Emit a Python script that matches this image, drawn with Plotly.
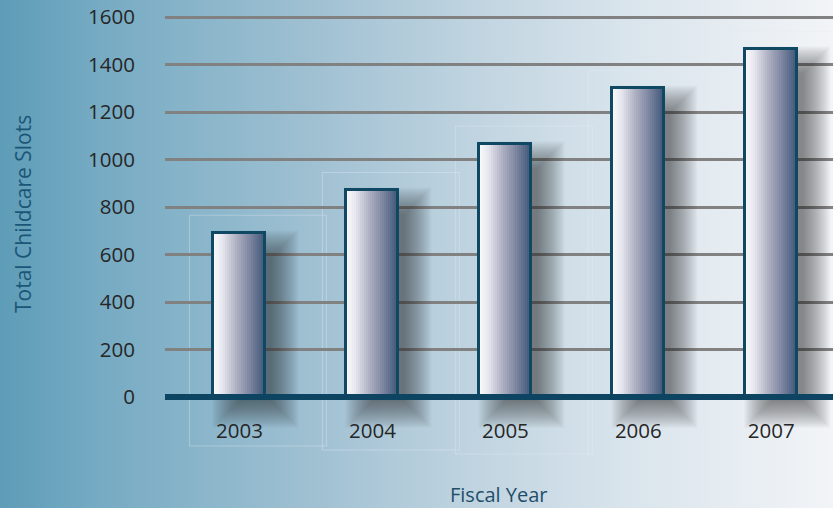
import base64
import plotly.graph_objects as go

# ---- data ----
years = ["2003", "2004", "2005", "2006", "2007"]
slots = [690, 870, 1065, 1300, 1465]
y_ticks = [0, 200, 400, 600, 800, 1000, 1200, 1400, 1600]

# ---- canvas geometry ----
W, H = 833, 508
M_L, M_R, M_T, M_B = 165, 0, 5, 52
PLOT_W = W - M_L - M_R
PLOT_H = H - M_T - M_B
X_RANGE = [-0.560, 4.464]
Y_RANGE = [-248.5, 1651.4]
PX_X = PLOT_W / (X_RANGE[1] - X_RANGE[0])   # pixels per category
PX_Y = PLOT_H / (Y_RANGE[1] - Y_RANGE[0])   # pixels per unit

BAR_W = 0.391
N_STEPS = 26


def hex_rgb(h):
    h = h.lstrip("#")
    return tuple(int(h[i:i + 2], 16) for i in (0, 2, 4))


def interp(stops, t):
    for (t0, c0), (t1, c1) in zip(stops, stops[1:]):
        if t <= t1:
            f = (t - t0) / (t1 - t0) if t1 > t0 else 0
            a, b = hex_rgb(c0), hex_rgb(c1)
            return "rgb(%d,%d,%d)" % tuple(round(a[i] + (b[i] - a[i]) * f) for i in range(3))
    r, g, b = hex_rgb(stops[-1][1])
    return "rgb(%d,%d,%d)" % (r, g, b)


bar_stops = [(0.0, "#fbfbfd"), (0.18, "#e6e6ee"), (0.45, "#aeb0c2"),
             (0.72, "#7b849f"), (1.0, "#3d5677")]

bg_stops = [(0.0, "#5e9cb7"), (0.12, "#76abc3"), (0.36, "#9dbfd1"),
            (0.55, "#bdd2df"), (0.75, "#d9e4ec"), (1.0, "#f2f4f7")]

# ---- page background as an SVG gradient ----
stop_tags = "".join(
    '<stop offset="%g" stop-color="%s"/>' % (t, c) for t, c in bg_stops)
svg = ('<svg xmlns="http://www.w3.org/2000/svg" width="%d" height="%d">'
       '<defs><linearGradient id="g" x1="0" x2="1" y1="0" y2="0">%s'
       '</linearGradient></defs><rect width="100%%" height="100%%" fill="url(#g)"/></svg>'
       % (W, H, stop_tags))
bg_src = "data:image/svg+xml;base64," + base64.b64encode(svg.encode()).decode()

fig = go.Figure()

# ---- bars: stacked slices give a left-to-right shading ----
for j in range(N_STEPS, 0, -1):
    t = (j - 0.5) / N_STEPS
    fig.add_trace(go.Bar(
        x=years, y=slots,
        width=[BAR_W * j / N_STEPS] * len(years),
        offset=[-BAR_W / 2] * len(years),
        marker=dict(color=interp(bar_stops, t), line=dict(width=0)),
        opacity=1, hoverinfo="skip", showlegend=False,
    ))

# outline on top
fig.add_trace(go.Bar(
    x=years, y=slots,
    width=[BAR_W] * len(years), offset=[-BAR_W / 2] * len(years),
    marker=dict(color="rgba(0,0,0,0)", line=dict(color="#0e4863", width=3)),
    hoverinfo="skip", showlegend=False,
))

shapes = []

# ---- soft drop shadows (layered translucent rectangles) ----
sh_dx = 16 / PX_X
sh_dy = 14 / PX_Y
for i, v in enumerate(slots):
    for e in range(-10, 18):
        ex, ey = e / PX_X, e / PX_Y
        shapes.append(dict(
            type="rect", xref="x", yref="y", layer="between",
            x0=i - BAR_W / 2 + sh_dx - ex, x1=i + BAR_W / 2 + sh_dx + ex,
            y0=-sh_dy - ey, y1=v - sh_dy + ey,
            fillcolor="rgba(25,32,42,0.024)", line=dict(width=0),
        ))

# ---- faint frame behind each bar ----
for i, v in enumerate(slots):
    shapes.append(dict(
        type="rect", xref="x", yref="y", layer="below",
        x0=i - BAR_W / 2 - 24 / PX_X, x1=i + BAR_W / 2 + 61 / PX_X,
        y0=-(49 + 4 * i) / PX_Y, y1=v + 18 / PX_Y,
        fillcolor="rgba(0,0,0,0)",
        line=dict(color="rgba(228,238,245,0.35)", width=1),
    ))

# ---- heavy baseline ----
shapes.append(dict(
    type="line", xref="paper", yref="y", layer="above",
    x0=0, x1=1, y0=0, y1=0,
    line=dict(color="#0c4461", width=6),
))


def px_to_paper_x(px):
    return (px - M_L) / PLOT_W


def px_to_paper_y(py):
    return (H - M_B - py) / PLOT_H


annotations = [
    dict(text="Total Childcare Slots", textangle=-90, showarrow=False,
         xref="paper", yref="paper", x=px_to_paper_x(23), y=px_to_paper_y(214),
         xanchor="center", yanchor="middle",
         font=dict(family="Open Sans", size=21, color="#1b5677")),
    dict(text="Fiscal Year", showarrow=False,
         xref="paper", yref="paper", x=px_to_paper_x(499), y=px_to_paper_y(494),
         xanchor="center", yanchor="middle",
         font=dict(family="Open Sans", size=20, color="#1f4e6a")),
]

fig.update_layout(
    width=W, height=H,
    margin=dict(l=M_L, r=M_R, t=M_T, b=M_B, pad=0),
    paper_bgcolor="rgba(0,0,0,0)", plot_bgcolor="rgba(0,0,0,0)",
    barmode="overlay", bargap=0,
    showlegend=False,
    shapes=shapes, annotations=annotations,
    images=[dict(source=bg_src, xref="paper", yref="paper",
                 x=-M_L / PLOT_W, y=1 + M_T / PLOT_H,
                 sizex=W / PLOT_W, sizey=H / PLOT_H,
                 xanchor="left", yanchor="top", sizing="stretch", layer="below")],
    font=dict(family="Open Sans", color="#262626"),
)

fig.update_xaxes(
    type="category", range=X_RANGE, showgrid=False, zeroline=False,
    showline=False, ticks="", ticklabelposition="inside",
    ticklabelstandoff=11,
    tickfont=dict(family="Open Sans", size=20.5, color="#262626"),
    fixedrange=True,
)
fig.update_yaxes(
    range=Y_RANGE, tickvals=y_ticks, showgrid=True,
    gridcolor="#818181", gridwidth=2.7, zeroline=False, showline=False,
    ticks="", ticklabelstandoff=29,
    tickfont=dict(family="Open Sans", size=20.5, color="#262626"),
    fixedrange=True,
)

fig.write_html("out.html", config={"displayModeBar": False})
